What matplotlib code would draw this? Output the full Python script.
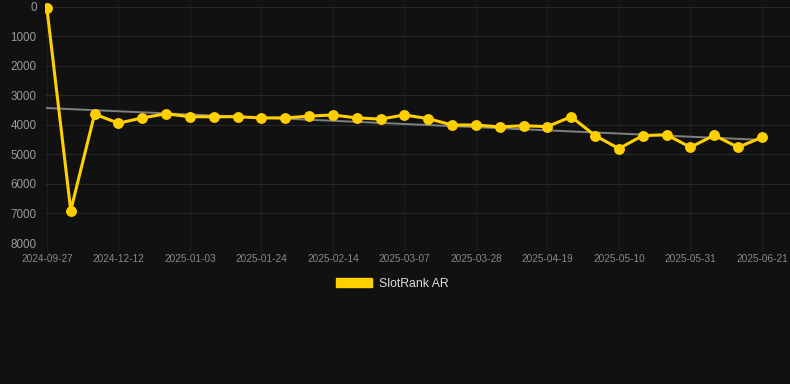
import numpy as np
import matplotlib
matplotlib.use('Agg')
import matplotlib.pyplot as plt
from matplotlib.patches import Patch

plt.rcParams['font.family'] = ['Liberation Sans', 'DejaVu Sans']

# Data
dates = ['2024-09-27', '2024-11-28', '2024-12-05', '2024-12-12', '2024-12-19', '2024-12-26',
         '2025-01-03', '2025-01-10', '2025-01-17', '2025-01-24', '2025-01-31', '2025-02-07',
         '2025-02-14', '2025-02-21', '2025-02-28', '2025-03-07', '2025-03-14', '2025-03-21',
         '2025-03-28', '2025-04-04', '2025-04-11', '2025-04-19', '2025-04-26', '2025-05-03',
         '2025-05-10', '2025-05-17', '2025-05-24', '2025-05-31', '2025-06-07', '2025-06-14',
         '2025-06-21']
rank = [50, 6900, 3630, 3940, 3760, 3620, 3720, 3720, 3720, 3760, 3760, 3700,
        3660, 3760, 3800, 3660, 3785, 4000, 4000, 4065, 4025, 4055, 3720, 4360,
        4800, 4360, 4330, 4755, 4350, 4755, 4420]
label_every = 3
series_name = 'SlotRank AR'

bg = '#111111'
yellow = '#FFD000'

fig = plt.figure(figsize=(7.9, 3.84), dpi=100, facecolor=bg)
ax = fig.add_axes([45 / 790, 1 - 243 / 384, 745 / 790, 240 / 384], facecolor=bg)

x = np.arange(len(rank))
y = np.array(rank)

# trend line (linear fit)
k, b = np.polyfit(x, y, 1)
ax.plot(x, k * x + b, color='#808080', linewidth=1.4, zorder=2)

ax.plot(x, y, color=yellow, linewidth=2.2, marker='o', markersize=6.8, zorder=3)

ax.set_xlim(-0.08, 31.18)
ax.set_ylim(8000, -135)
ax.set_yticks(range(0, 8001, 1000))
ax.set_yticklabels([str(v) for v in range(0, 8001, 1000)])
ticks = x[::label_every]
ax.set_xticks(ticks)
ax.set_xticklabels([dates[i] for i in ticks])

ax.grid(True, axis='y', color='#272727', linewidth=0.8)
ax.grid(True, axis='x', color='#1e1e1e', linewidth=0.8)
ax.set_axisbelow(True)
for s in ax.spines.values():
    s.set_visible(False)
ax.tick_params(axis='y', colors='#999999', labelsize=8.4, length=0, pad=6)
ax.tick_params(axis='x', colors='#888888', labelsize=7.2, length=6, width=0.8, pad=2, color='#1e1e1e')

leg = fig.legend(handles=[Patch(facecolor=yellow, edgecolor=yellow, label=series_name)],
                 loc='center', bbox_to_anchor=(392 / 790, 1 - 284 / 384), frameon=False,
                 handlelength=3.0, handleheight=0.8, handletextpad=0.5, fontsize=8.8)
for t in leg.get_texts():
    t.set_color('#dddddd')

fig.savefig('out.png', dpi=100, facecolor=bg)
